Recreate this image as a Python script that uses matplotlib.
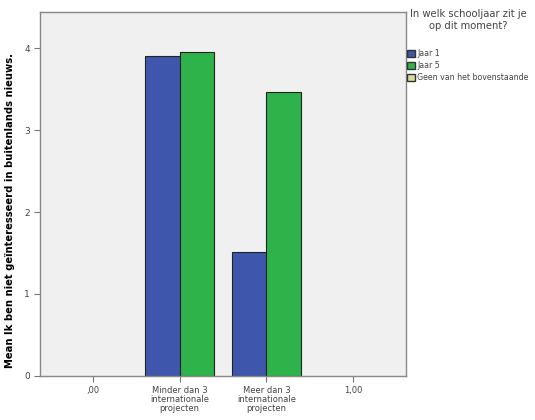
import matplotlib
matplotlib.use('Agg')
import matplotlib.pyplot as plt
import matplotlib.patches as mpatches
import numpy as np

# ── Data ────────────────────────────────────────────
categories = [',00', 'Minder dan 3\ninternationale\nprojecten',
              'Meer dan 3\ninternationale\nprojecten', '1,00']
jaar1 = [np.nan, 3.90, 1.51, np.nan]
jaar5 = [np.nan, 3.96, 3.46, np.nan]
series_names = ['Jaar 1', 'Jaar 5', 'Geen van het bovenstaande']
series_colors = ['#3e56ac', '#2db34a', '#d9d99a']

fig = plt.figure(figsize=(5.35, 4.2), dpi=100, facecolor='white')
ax = fig.add_axes([0.075, 0.105, 0.684, 0.866])
ax.set_facecolor('#f0f0f0')

x = np.arange(len(categories))
w = 0.4
ax.bar(x - w/2, jaar1, width=w, color=series_colors[0], edgecolor='#222222', linewidth=0.8)
ax.bar(x + w/2, jaar5, width=w, color=series_colors[1], edgecolor='#222222', linewidth=0.8)

ax.set_xlim(-0.61, 3.61)
ax.set_ylim(0, 4.44)
ax.set_yticks([0, 1, 2, 3, 4])
ax.set_xticks(x)
ax.set_xticklabels(categories, fontsize=6, color='#444444', linespacing=0.95)
ax.tick_params(axis='y', labelsize=6.5, colors='#444444', length=4, color='#777777')
ax.tick_params(axis='x', length=4, color='#777777')
for s in ax.spines.values():
    s.set_color('#888888')
    s.set_linewidth(1)
ax.set_ylabel('Mean Ik ben niet geïnteresseerd in buitenlands nieuws.',
              fontsize=7.2, fontweight='bold')
ax.yaxis.set_label_coords(-0.068, 0.455)

handles = [mpatches.Patch(facecolor=c, edgecolor='#333333', label=n)
           for c, n in zip(series_colors, series_names)]
leg = fig.legend(handles=handles, title='In welk schooljaar zit je\nop dit moment?',
                 loc='upper left', bbox_to_anchor=(0.755, 0.985), frameon=False,
                 fontsize=5.7, title_fontsize=7.2, handlelength=1.0, handleheight=1.0,
                 handletextpad=0.3, labelspacing=0.4, borderaxespad=0,
                 alignment='center')
leg.get_title().set_color('#444444')
leg.get_title().set_multialignment('center')
leg._legend_box.sep = 13
for t in leg.get_texts():
    t.set_color('#444444')

plt.savefig('out.png', dpi=100, facecolor='white')
